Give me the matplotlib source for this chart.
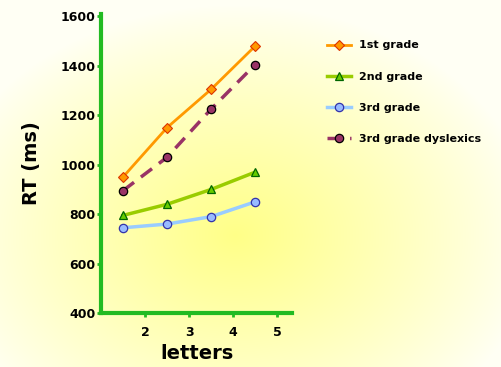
import numpy as np
import matplotlib.pyplot as plt
from matplotlib.colors import to_rgb

letters = [1.5, 2.5, 3.5, 4.5]
first_grade = [950, 1150, 1305, 1480]
second_grade = [795, 840, 900, 970]
third_grade = [745, 760, 790, 850]
third_dyslexics = [895, 1030, 1225, 1405]
x_ticks = [2, 3, 4, 5]
y_ticks = [400, 600, 800, 1000, 1200, 1400, 1600]

fig = plt.figure(figsize=(5.02, 3.67), dpi=100)

# yellow radial glow behind everything
bg = fig.add_axes([0, 0, 1, 1], zorder=-10)
h, w = 367, 502
yy, xx = np.mgrid[0:h, 0:w]
r = np.sqrt(((xx - 235) / 300.0) ** 2 + ((yy - 235) / 230.0) ** 2)
t = np.clip(1 - r, 0, 1) ** 0.9
edge = np.array(to_rgb('#fffff4'))
centre = np.array(to_rgb('#ffff88'))
img = edge + (centre - edge) * t[..., None]
bg.imshow(img, aspect='auto', extent=[0, 1, 0, 1], origin='upper')
bg.axis('off')

ax = fig.add_axes([0.201, 0.147, 0.381, 0.815])
ax.patch.set_alpha(0)

ax.plot(letters, first_grade, color='#ff9900', lw=2, marker='D', ms=5,
        mfc='#ff9900', mec='#dd3300', mew=0.8, label='1st grade')
ax.plot(letters, second_grade, color='#99cc00', lw=2.5, marker='^', ms=6,
        mfc='#66cc00', mec='#006600', mew=0.9, label='2nd grade')
ax.plot(letters, third_grade, color='#99ccff', lw=2.5, marker='o', ms=6,
        mfc='#99bbff', mec='#3333aa', mew=0.9, label='3rd grade')
ax.plot(letters, third_dyslexics, color='#993366', lw=2.5, ls=(0, (4, 2.5)),
        marker='o', ms=6, mfc='#993366', mec='black', mew=0.9,
        label='3rd grade dyslexics')

ax.set_xlim(1, 5.34)
ax.set_ylim(400, 1610)
ax.set_xticks(x_ticks)
ax.set_yticks(y_ticks)
for s in ['top', 'right']:
    ax.spines[s].set_visible(False)
for s in ['left', 'bottom']:
    ax.spines[s].set_color('#22bb22')
    ax.spines[s].set_linewidth(3)
ax.tick_params(colors='#22bb22', width=2, length=3, labelsize=9)
for lab in ax.get_xticklabels() + ax.get_yticklabels():
    lab.set_color('black')
    lab.set_fontweight('bold')
ax.tick_params(axis='x', pad=6)
ax.tick_params(axis='y', pad=1)

ax.set_xlabel('letters', fontsize=14, fontweight='bold', labelpad=4)
ax.set_ylabel('RT (ms)', fontsize=14, fontweight='bold', labelpad=14)

leg = ax.legend(loc='upper left', bbox_to_anchor=(1.13, 0.945), frameon=False,
                prop={'weight': 'bold', 'size': 8}, handlelength=2.2,
                labelspacing=1.9, handletextpad=0.7)

fig.savefig('out.png', dpi=100)
